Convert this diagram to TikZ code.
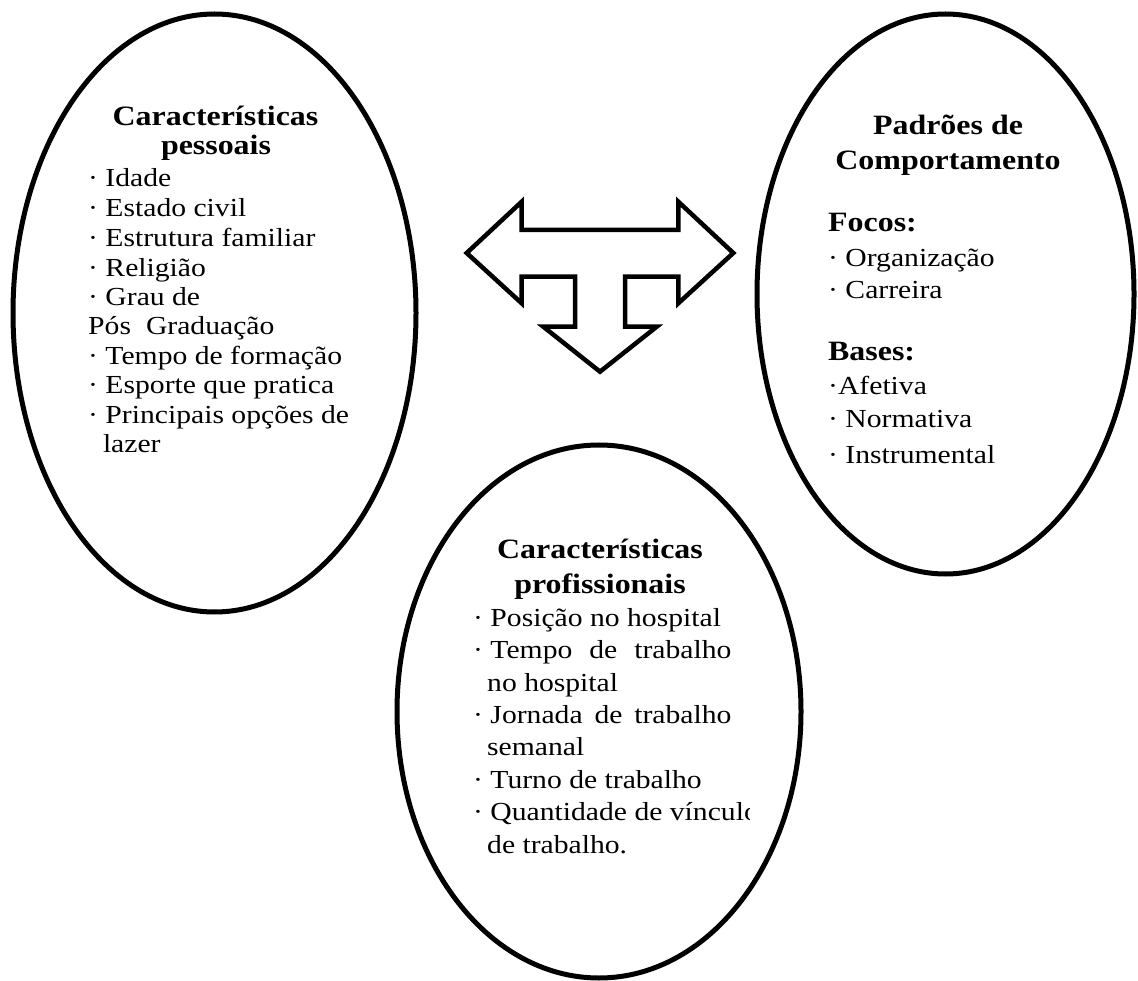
\documentclass[tikz,border=0pt]{standalone}
\usepackage{fontspec}
\setmainfont{Liberation Serif}[FakeStretch=1.14]
\usetikzlibrary{shapes.geometric}
\begin{document}
\begin{tikzpicture}[x=1pt,y=-1pt,
  oval/.style={draw,line width=5pt,ellipse,inner sep=0pt},
  head/.style={font=\fontsize{28}{30}\selectfont\bfseries,inner sep=0pt,anchor=base},
  item/.style={font=\fontsize{26}{30}\selectfont,inner sep=0pt,anchor=base west},
  bighead/.style={font=\fontsize{28}{30}\selectfont\bfseries,inner sep=0pt,anchor=base west},
  arrowshape/.style={draw,line width=4.5pt}]
\useasboundingbox (0,0) rectangle (1138,981);

% ellipses
\node[oval,minimum width=403pt,minimum height=598pt] (pess) at (214.5,313) {};
\node[oval,minimum width=377pt,minimum height=560pt] (padr) at (945.5,294) {};
\node[oval,minimum width=404pt,minimum height=533pt] (prof) at (599,711.5) {};

% left ellipse text
\node[head] (h1a) at (215.5,126) {Características};
\node[head] (h1b) at (216,155) {pessoais};
\node[item] (p1) at (88,187) {· Idade};
\node[item] (p2) at (88,217) {· Estado civil};
\node[item] (p3) at (88,247) {· Estrutura familiar};
\node[item] (p4) at (88,277) {· Religião};
\node[item] (p5) at (88,306) {· Grau de};
\node[item] (p6) at (88,335) {Pós\hspace{15pt}Graduação};
\node[item] (p7) at (88,365) {· Tempo de formação};
\node[item] (p8) at (88,394) {· Esporte que pratica};
\node[item] (p9) at (88,424) {· Principais opções de};
\node[item] (p10) at (102.8,453) {lazer};

% right ellipse text
\node[head] (h2a) at (948,135) {Padrões de};
\node[head] (h2b) at (948,170) {Comportamento};
\node[bighead] (f0) at (828,232) {Focos:};
\node[item] (f1) at (828,267) {· Organização};
\node[item] (f2) at (828,299) {· Carreira};
\node[bighead] (b0) at (828,361) {Bases:};
\node[item] (b1) at (828,395) {·Afetiva};
\node[item] (b2) at (828,428) {· Normativa};
\node[item] (b3) at (828,463) {· Instrumental};

% bottom ellipse text
\node[head] (h3a) at (600,558) {Características};
\node[head] (h3b) at (600,593) {profissionais};
\node[item] (q1) at (473,626) {· Posição no hospital};
\node[item] (q2) at (473,658) {· \makebox[241pt][s]{Tempo de trabalho}};
\node[item] (q3) at (487,691) {no hospital};
\node[item] (q4) at (473,723) {· \makebox[241pt][s]{Jornada de trabalho}};
\node[item] (q5) at (487,755) {semanal};
\node[item] (q6) at (473,788) {· Turno de trabalho};
\begin{scope}
\clip (460,790) rectangle (749,832);
\node[item] (q7) at (473,820) {· Quantidade de vínculo};
\end{scope}
\node[item] (q8) at (487,853) {de trabalho.};

% three-way arrow
\draw[arrowshape] (466.7,253) -- (521.7,201.7) -- (521.7,230) -- (678.3,230)
  -- (678.3,201.7) -- (733.3,253) -- (678.3,303.3) -- (678.3,276.7)
  -- (625,276.7) -- (625,326.7) -- (656.7,326.7) -- (600,371.7)
  -- (543.3,326.7) -- (575,326.7) -- (575,276.7) -- (521.7,276.7)
  -- (521.7,303.3) -- cycle;
\end{tikzpicture}
\end{document}
